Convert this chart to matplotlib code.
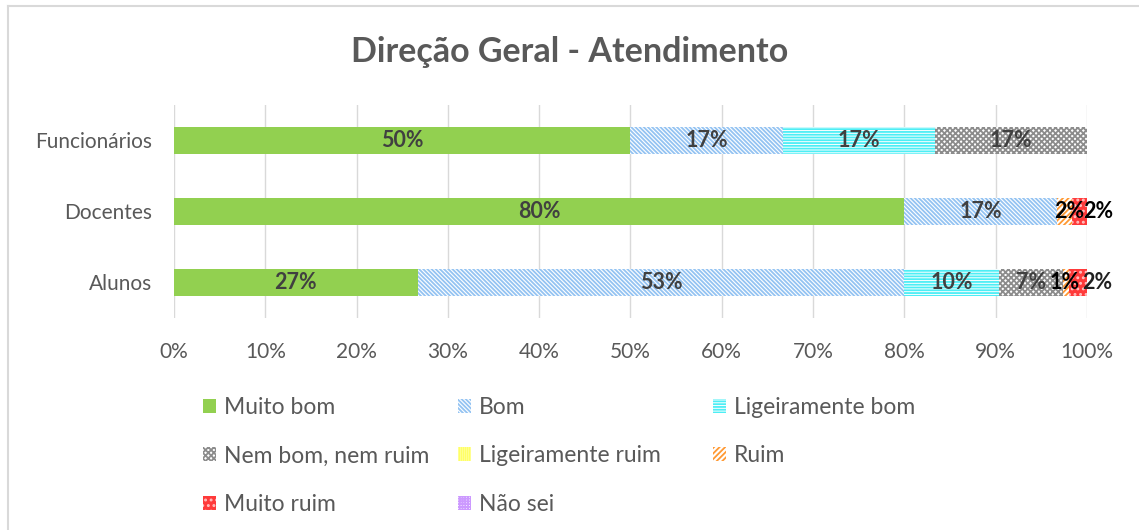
import numpy as np
import matplotlib.pyplot as plt
from matplotlib.lines import Line2D

plt.rcParams['font.family'] = ['Lato', 'DejaVu Sans']
plt.rcParams['hatch.linewidth'] = 1.3

# --------------------- Daten ---------------------
grupos = ["Alunos", "Docentes", "Funcionários"]
categorias = ["Muito bom", "Bom", "Ligeiramente bom", "Nem bom, nem ruim",
              "Ligeiramente ruim", "Ruim", "Muito ruim", "Não sei"]
muito_bom = [26.67, 80.0, 50.0]
bom = [53.33, 16.67, 16.67]
lig_bom = [10.33, 0.0, 16.67]
nem_bom = [7.0, 0.0, 16.66]
lig_ruim = [0.0, 0.0, 0.0]
ruim = [0.67, 1.67, 0.0]
muito_ruim = [2.0, 1.66, 0.0]
nao_sei = [0.0, 0.0, 0.0]
series = [muito_bom, bom, lig_bom, nem_bom, lig_ruim, ruim, muito_ruim, nao_sei]

# Stil je Kategorie: (Füllfarbe, Schraffurfarbe, Schraffur)
stile = [("#92D050", "#92D050", None),
         ("white", "#94C3F2", "\\" * 8),
         ("white", "#4DEEF5", "-" * 6),
         ("white", "#8C8C8C", "x" * 6),
         ("white", "#FFFF66", "|" * 8),
         ("white", "#FF9933", "/" * 6),
         ("#FF3A3A", "#FFC0C0", "..."),
         ("white", "#CC99FF", "+" * 6)]

# Beschriftungs-Verschiebung für kleine Segmente (in %)
versatz = {(0, 5): -0.1, (0, 6): 2.1, (1, 5): 0.6, (1, 6): 2.1}
etiketten_farbe = {(0, 5): "black", (1, 5): "black", (1, 6): "black", (0, 6): "#202020"}

fig = plt.figure(figsize=(11.39, 5.30), dpi=100)
# Rahmen (nur oben und links sichtbar)
fig.lines.append(Line2D([8 / 1139, 1.0], [1 - 6 / 530, 1 - 6 / 530],
                        transform=fig.transFigure, color="#D9D9D9", lw=1.5))
fig.lines.append(Line2D([8 / 1139, 8 / 1139], [0.0, 1 - 6 / 530],
                        transform=fig.transFigure, color="#D9D9D9", lw=1.5))

ax = fig.add_axes([0.1528, 0.40, 0.8015, 0.402])

y = np.arange(len(grupos))
links = np.zeros(len(grupos))
handles = []
for k, (werte, (fc, hc, ht)) in enumerate(zip(series, stile)):
    werte = np.array(werte)
    h = ax.barh(y, werte, left=links, height=0.38, color=fc, edgecolor=hc,
                hatch=ht, linewidth=0, label=categorias[k], zorder=2)
    handles.append(h)
    for i, v in enumerate(werte):
        if v > 0:
            xpos = links[i] + v / 2 + versatz.get((i, k), 0)
            ax.text(xpos, y[i], f"{v:.0f}%", ha="center", va="center",
                    fontsize=15.5, fontweight="bold",
                    color=etiketten_farbe.get((i, k), "#404040"), zorder=3)
    links += werte

ax.set_xlim(0, 100)
ax.set_ylim(-0.5, 2.5)
ax.set_xticks(np.arange(0, 101, 10))
ax.set_xticklabels([f"{t}%" for t in range(0, 101, 10)])
ax.set_yticks(y)
ax.set_yticklabels(grupos)
ax.tick_params(axis="both", length=0, labelsize=15, labelcolor="#595959")
ax.tick_params(axis="x", pad=17)
ax.tick_params(axis="y", pad=16)
ax.grid(axis="x", color="#D9D9D9", lw=1, zorder=0)
for s in ax.spines.values():
    s.set_visible(False)

fig.text(0.5, 0.902, "Direção Geral - Atendimento", ha="center", va="center",
         fontsize=24.5, fontweight="bold", color="#595959")

# Legende: drei Spalten gleicher Breite, zeilenweise gefüllt
spalten_x = [203, 458, 713]
for c, x0 in enumerate(spalten_x):
    idx = list(range(c, len(categorias), 3))
    leg = fig.legend([handles[i] for i in idx], [categorias[i] for i in idx],
                     loc="upper left", bbox_to_anchor=(x0 / 1139, 1 - 397 / 530),
                     frameon=False, fontsize=16.5, labelcolor="#595959",
                     handlelength=0.55, handleheight=0.55, handletextpad=0.35,
                     labelspacing=1.2, borderpad=0, borderaxespad=0)

fig.savefig("out.png", dpi=100)
